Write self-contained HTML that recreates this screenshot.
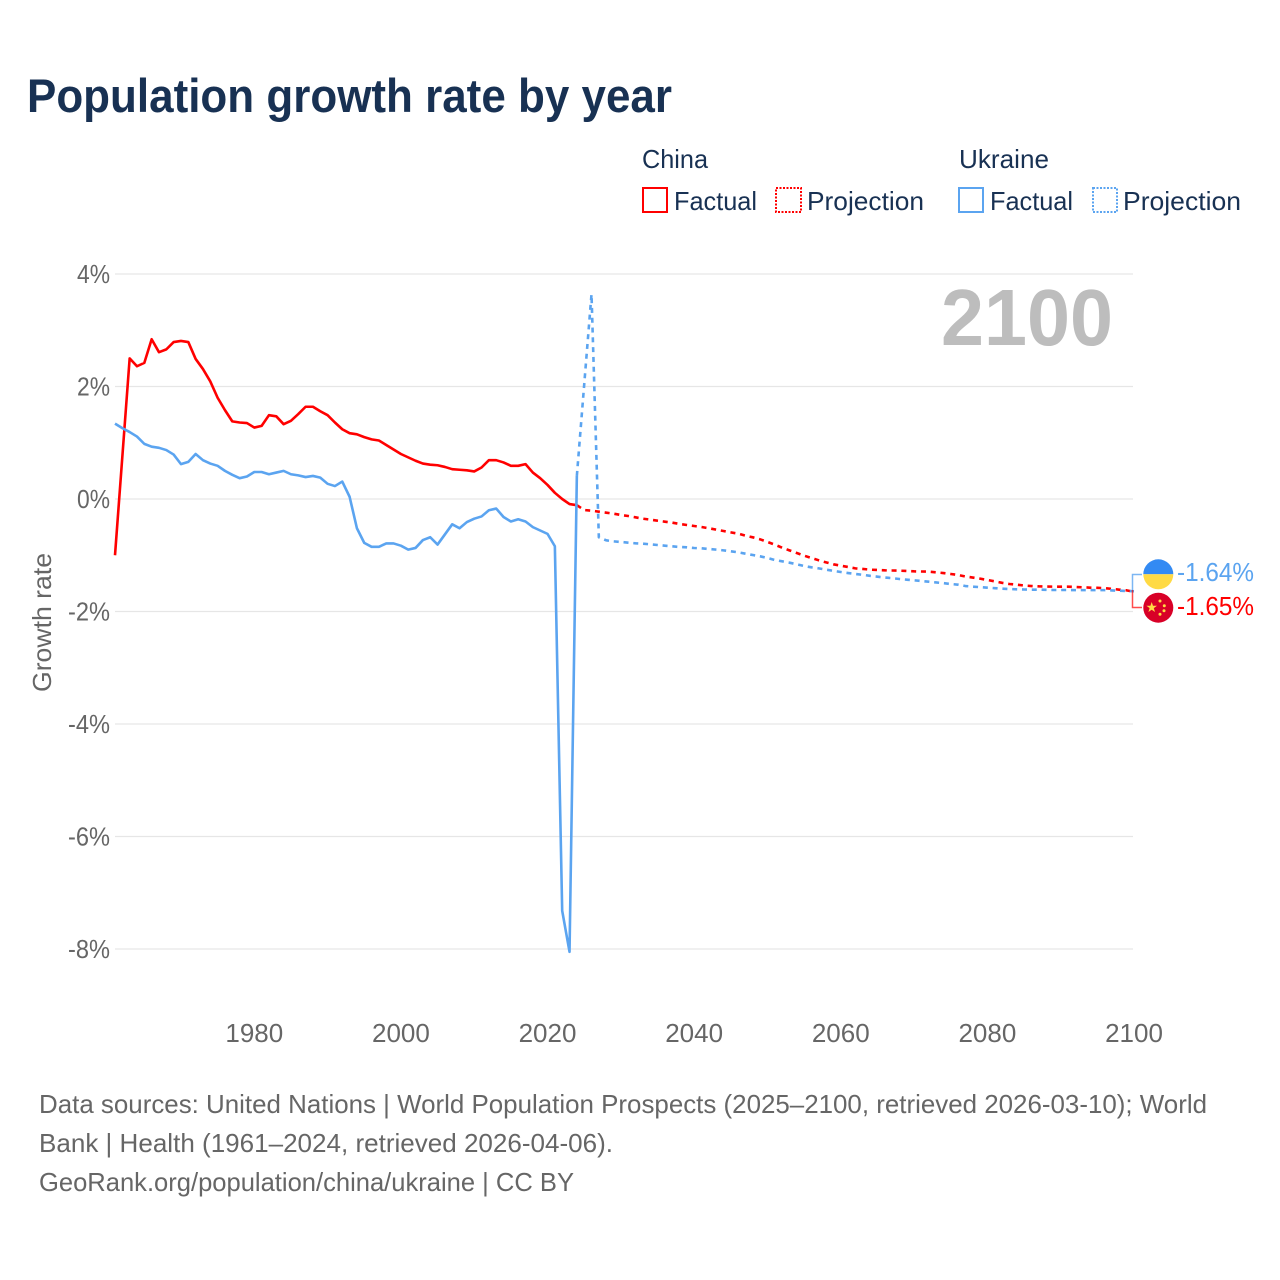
<!DOCTYPE html>
<html lang="en">
<head>
<meta charset="utf-8">
<title>Population growth rate by year</title>
<style>
html,body{margin:0;padding:0;background:#fff;}
svg{display:block;font-family:"Liberation Sans",Arial,sans-serif;}
</style>
</head>
<body>
<svg id="chart" xmlns="http://www.w3.org/2000/svg" width="1280" height="1280" viewBox="0 0 1280 1280">
  <rect x="0" y="0" width="1280" height="1280" fill="#fff"/>
  <text x="27" y="112" font-size="47" font-weight="700" fill="#183153" textLength="645" lengthAdjust="spacingAndGlyphs">Population growth rate by year</text>

  <g font-size="26" fill="#183153">
    <text x="642" y="168" textLength="66" lengthAdjust="spacingAndGlyphs">China</text>
    <text x="959" y="168" textLength="90" lengthAdjust="spacingAndGlyphs">Ukraine</text>
    <g>
      <rect x="643" y="188" width="24" height="24" fill="none" stroke="#ff0000" stroke-width="2"/>
      <text x="674" y="210" textLength="83" lengthAdjust="spacingAndGlyphs">Factual</text>
    </g>
    <g>
      <rect x="776" y="188" width="25" height="24" fill="none" stroke="#ff0000" stroke-width="2" stroke-dasharray="2 1.5"/>
      <text x="807" y="210" textLength="117" lengthAdjust="spacingAndGlyphs">Projection</text>
    </g>
    <g>
      <rect x="959" y="188" width="24" height="24" fill="none" stroke="#5ba4f0" stroke-width="2"/>
      <text x="990" y="210" textLength="83" lengthAdjust="spacingAndGlyphs">Factual</text>
    </g>
    <g>
      <rect x="1093" y="188" width="24" height="24" fill="none" stroke="#5ba4f0" stroke-width="2" stroke-dasharray="2 1.5"/>
      <text x="1123" y="210" textLength="118" lengthAdjust="spacingAndGlyphs">Projection</text>
    </g>
  </g>

  <g id="grid"></g>
  <g id="yticks" font-size="26" fill="#666"></g>
  <g id="xticks" font-size="26" fill="#666"></g>
  <text transform="translate(51,692) rotate(-90)" font-size="26" fill="#666" textLength="139" lengthAdjust="spacingAndGlyphs">Growth rate</text>
  <text x="941" y="345" font-size="80" font-weight="700" fill="#bdbdbd" textLength="172" lengthAdjust="spacingAndGlyphs">2100</text>

  <g id="series"></g>

  <g>
    <path d="M1132.5 590V574.5H1142" fill="none" stroke="#5ba4f0" stroke-width="1.5" opacity="0.8"/>
    <path d="M1132.5 590V607.5H1142" fill="none" stroke="#ff0000" stroke-width="1.5" opacity="0.7"/>
    <g>
      <path d="M1143.3 574.3A15 15 0 0 1 1173.3 574.3Z" fill="#338af3"/>
      <path d="M1143.3 574.3A15 15 0 0 0 1173.3 574.3Z" fill="#ffda44"/>
    </g>
    <g>
      <circle cx="1158.3" cy="607.7" r="15" fill="#d80027"/>
      <polygon fill="#ffda44" points="1151.7,602 1153,605.7 1157,605.7 1153.8,608.1 1155,612 1151.7,609.7 1148.4,612 1149.6,608.1 1146.4,605.7 1150.4,605.7"/>
      <circle cx="1160" cy="601" r="1.5" fill="#ffda44"/>
      <circle cx="1164.3" cy="605.7" r="1.5" fill="#ffda44"/>
      <circle cx="1164" cy="610.7" r="1.5" fill="#ffda44"/>
      <circle cx="1160" cy="614.3" r="1.5" fill="#ffda44"/>
    </g>
    <text x="1177" y="581" font-size="26" fill="#5ba4f0" textLength="77" lengthAdjust="spacingAndGlyphs">-1.64%</text>
    <text x="1177" y="615" font-size="26" fill="#ff0000" textLength="77" lengthAdjust="spacingAndGlyphs">-1.65%</text>
  </g>

  <g font-size="26" fill="#666">
    <text x="39" y="1113" textLength="1168" lengthAdjust="spacingAndGlyphs">Data sources: United Nations | World Population Prospects (2025–2100, retrieved 2026-03-10); World</text>
    <text x="39" y="1152" textLength="574" lengthAdjust="spacingAndGlyphs">Bank | Health (1961–2024, retrieved 2026-04-06).</text>
    <text x="39" y="1191" textLength="535" lengthAdjust="spacingAndGlyphs">GeoRank.org/population/china/ukraine | CC BY</text>
  </g>
</svg>
<script>
var factualStartYear = 1961;
var projectionStartYear = 2024;
var yTickValues = [4, 2, 0, -2, -4, -6, -8];
var yTickLabels = ["4%", "2%", "0%", "-2%", "-4%", "-6%", "-8%"];
var xTickValues = [1980, 2000, 2020, 2040, 2060, 2080, 2100];
var xTickLabels = ["1980", "2000", "2020", "2040", "2060", "2080", "2100"];

var chinaFactual = [-1.0, 0.75, 2.50, 2.36, 2.42, 2.84, 2.61, 2.66, 2.79, 2.81,
  2.79, 2.49, 2.31, 2.09, 1.80, 1.58, 1.38, 1.36, 1.35, 1.27,
  1.30, 1.49, 1.47, 1.33, 1.39, 1.51, 1.64, 1.64, 1.56, 1.49,
  1.36, 1.24, 1.17, 1.15, 1.10, 1.06, 1.04, 0.96, 0.88, 0.80,
  0.74, 0.68, 0.63, 0.61, 0.60, 0.57, 0.53, 0.52, 0.51, 0.49,
  0.56, 0.69, 0.69, 0.65, 0.59, 0.59, 0.62, 0.47, 0.37, 0.25,
  0.11, 0.00, -0.09, -0.11];

var ukraineFactual = [1.34, 1.26, 1.19, 1.11, 0.98, 0.93, 0.91, 0.87, 0.79, 0.62,
  0.66, 0.80, 0.69, 0.63, 0.59, 0.50, 0.43, 0.37, 0.40, 0.48,
  0.48, 0.44, 0.47, 0.50, 0.44, 0.42, 0.39, 0.41, 0.38, 0.27,
  0.23, 0.31, 0.04, -0.52, -0.78, -0.85, -0.85, -0.79, -0.79, -0.83,
  -0.90, -0.87, -0.73, -0.68, -0.81, -0.63, -0.45, -0.52, -0.41, -0.35,
  -0.31, -0.20, -0.17, -0.32, -0.40, -0.36, -0.40, -0.50, -0.56, -0.62,
  -0.84, -7.32, -8.05, 0.41];

var chinaProjection = [-0.11, -0.196, -0.207, -0.225, -0.243, -0.26, -0.284, -0.302, -0.326, -0.35,
  -0.367, -0.385, -0.403, -0.42, -0.444, -0.462, -0.48, -0.498, -0.52, -0.545,
  -0.569, -0.593, -0.616, -0.652, -0.681, -0.717, -0.764, -0.812, -0.865, -0.913,
  -0.96, -1.007, -1.049, -1.09, -1.126, -1.161, -1.185, -1.209, -1.233, -1.244,
  -1.256, -1.262, -1.268, -1.271, -1.274, -1.28, -1.286, -1.289, -1.292, -1.304,
  -1.316, -1.333, -1.351, -1.378, -1.396, -1.416, -1.44, -1.464, -1.49, -1.511,
  -1.523, -1.538, -1.547, -1.553, -1.556, -1.558, -1.558, -1.558, -1.564, -1.57,
  -1.576, -1.579, -1.585, -1.597, -1.612, -1.624, -1.65];

var ukraineProjection = [0.41, 2.03, 3.64, -0.68, -0.735, -0.753, -0.764, -0.776, -0.788, -0.794,
  -0.806, -0.818, -0.83, -0.841, -0.853, -0.859, -0.871, -0.877, -0.889, -0.90,
  -0.913, -0.93, -0.948, -0.972, -0.996, -1.019, -1.049, -1.084, -1.108, -1.132,
  -1.161, -1.191, -1.215, -1.233, -1.256, -1.277, -1.298, -1.316, -1.333, -1.348,
  -1.366, -1.381, -1.396, -1.407, -1.422, -1.434, -1.446, -1.458, -1.47, -1.484,
  -1.496, -1.511, -1.523, -1.547, -1.558, -1.567, -1.576, -1.585, -1.594, -1.60,
  -1.606, -1.609, -1.612, -1.612, -1.615, -1.618, -1.618, -1.618, -1.62, -1.62,
  -1.62, -1.62, -1.62, -1.625, -1.63, -1.635, -1.64];

var NS = 'http://www.w3.org/2000/svg';
var xDomain = [1961, 2100], xRange = [115, 1134];
var yDomain = [-8, 4], yRange = [949, 274];

function xScale(year) {
  return xRange[0] + (year - xDomain[0]) * (xRange[1] - xRange[0]) / (xDomain[1] - xDomain[0]);
}
function yScale(value) {
  return yRange[0] + (value - yDomain[0]) * (yRange[1] - yRange[0]) / (yDomain[1] - yDomain[0]);
}
function linePath(values, startYear) {
  var d = '';
  for (var i = 0; i < values.length; i++) {
    d += (i ? 'L' : 'M') + xScale(startYear + i).toFixed(2) + ' ' + yScale(values[i]).toFixed(2);
  }
  return d;
}

var grid = document.getElementById('grid');
var yticks = document.getElementById('yticks');
var xticks = document.getElementById('xticks');
var series = document.getElementById('series');

yTickValues.forEach(function (v, i) {
  var line = document.createElementNS(NS, 'line');
  
  
  line.setAttribute('x1', 115);
  line.setAttribute('x2', 1133);
  line.setAttribute('y1', yScale(v));
  line.setAttribute('y2', yScale(v));
  line.setAttribute('stroke', '#e6e6e6');
  line.setAttribute('stroke-width', '1.2');
  grid.appendChild(line);

  var label = yTickLabels[i];
  var t = document.createElementNS(NS, 'text');
  
  
  t.setAttribute('x', 110);
  t.setAttribute('y', yScale(v) + 9);
  t.setAttribute('text-anchor', 'end');
  t.setAttribute('textLength', label.charAt(0) === '-' ? 42 : 33);
  t.setAttribute('lengthAdjust', 'spacingAndGlyphs');
  t.textContent = label;
  yticks.appendChild(t);
});

xTickValues.forEach(function (year, i) {
  var t = document.createElementNS(NS, 'text');
  
  
  t.setAttribute('x', xScale(year));
  t.setAttribute('y', 1042);
  t.setAttribute('text-anchor', 'middle');
  t.textContent = xTickLabels[i];
  xticks.appendChild(t);
});

var chinaFactualLine = document.createElementNS(NS, 'path');


chinaFactualLine.setAttribute('d', linePath(chinaFactual, factualStartYear));
chinaFactualLine.setAttribute('fill', 'none');
chinaFactualLine.setAttribute('stroke', '#ff0000');
chinaFactualLine.setAttribute('stroke-width', '2.6');
chinaFactualLine.setAttribute('stroke-linejoin', 'round');
series.appendChild(chinaFactualLine);

var chinaProjectionLine = document.createElementNS(NS, 'path');


chinaProjectionLine.setAttribute('d', linePath(chinaProjection, projectionStartYear));
chinaProjectionLine.setAttribute('fill', 'none');
chinaProjectionLine.setAttribute('stroke', '#ff0000');
chinaProjectionLine.setAttribute('stroke-width', '2.6');
chinaProjectionLine.setAttribute('stroke-linejoin', 'round');
chinaProjectionLine.setAttribute('stroke-dasharray', '5 4.8');
series.appendChild(chinaProjectionLine);

var ukraineFactualLine = document.createElementNS(NS, 'path');


ukraineFactualLine.setAttribute('d', linePath(ukraineFactual, factualStartYear));
ukraineFactualLine.setAttribute('fill', 'none');
ukraineFactualLine.setAttribute('stroke', '#5ba4f0');
ukraineFactualLine.setAttribute('stroke-width', '2.6');
ukraineFactualLine.setAttribute('stroke-linejoin', 'round');
series.appendChild(ukraineFactualLine);

var ukraineProjectionLine = document.createElementNS(NS, 'path');


ukraineProjectionLine.setAttribute('d', linePath(ukraineProjection, projectionStartYear));
ukraineProjectionLine.setAttribute('fill', 'none');
ukraineProjectionLine.setAttribute('stroke', '#5ba4f0');
ukraineProjectionLine.setAttribute('stroke-width', '2.6');
ukraineProjectionLine.setAttribute('stroke-linejoin', 'round');
ukraineProjectionLine.setAttribute('stroke-dasharray', '5 4.8');
series.appendChild(ukraineProjectionLine);
</script>
</body>
</html>
